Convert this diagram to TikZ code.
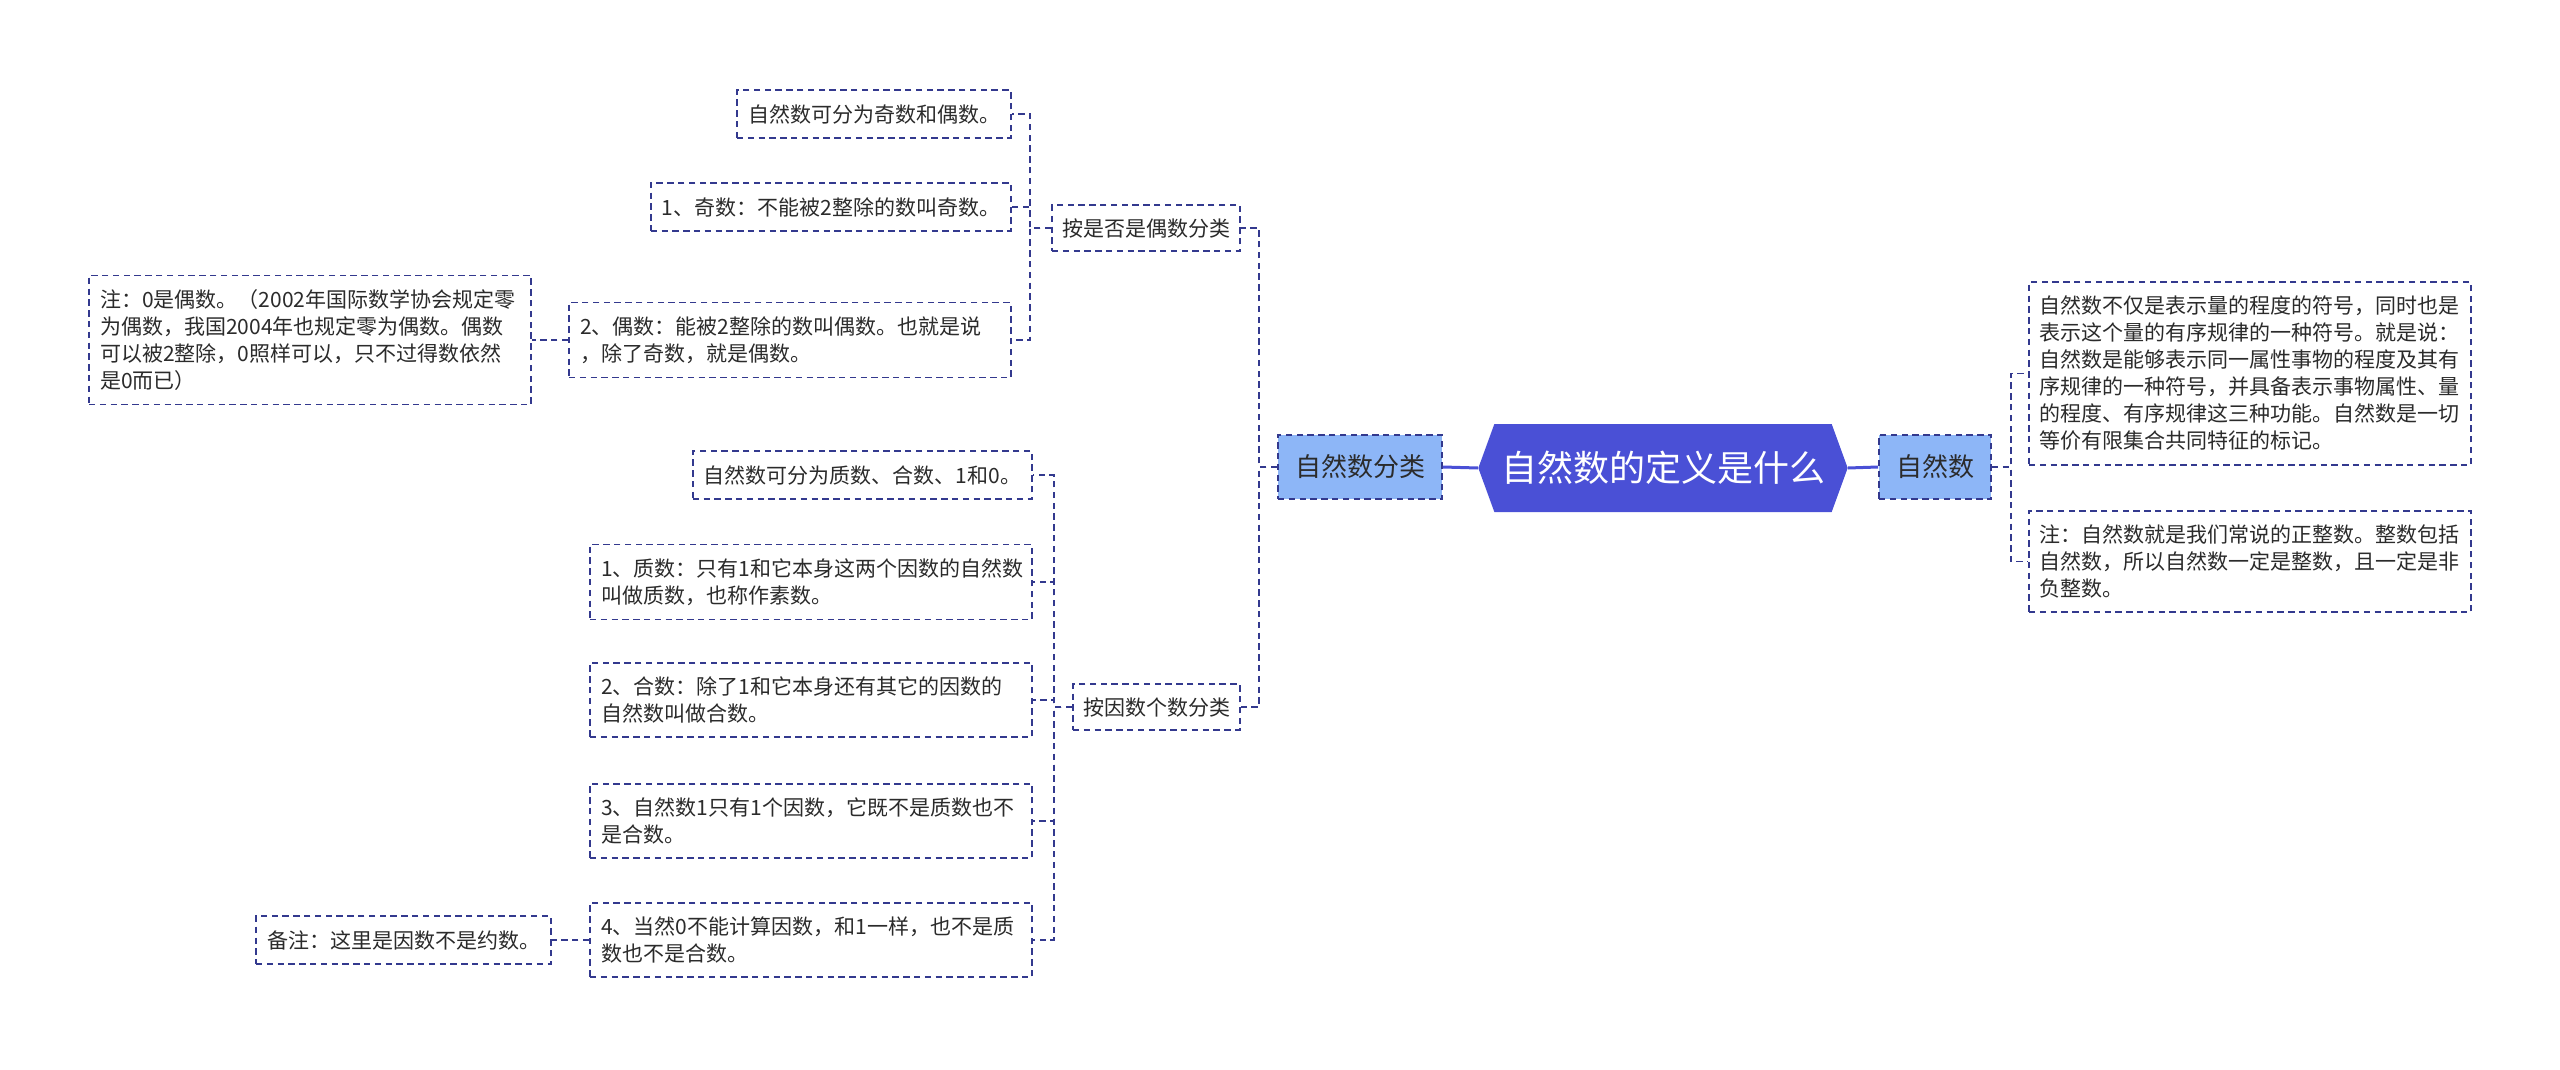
\documentclass[tikz,border=0pt]{standalone}
\usepackage{fontspec}
\setmainfont{Noto Sans CJK SC}
\usetikzlibrary{shapes.symbols}
\definecolor{rootblue}{HTML}{4A50D6}
\definecolor{lightblue}{HTML}{8DB6F7}
\definecolor{navy}{HTML}{33398E}
\definecolor{ink}{HTML}{2B2B2B}

\begin{document}
\begin{tikzpicture}[x=0.5pt, y=-0.5pt,
  nd/.style={draw=navy, line width=0.95pt, dash pattern=on 3.2pt off 2.2pt, fill=white, text=ink,
    font=\fontsize{10.5}{13.5}\selectfont, inner xsep=5.5pt, inner ysep=7pt, align=left},
  leaf/.style={nd, anchor=east},
  wide/.style={leaf, text width=210pt},
  cls/.style={nd, anchor=east, inner xsep=5pt, inner ysep=6.5pt},
  main/.style={nd, fill=lightblue, font=\fontsize{13}{15}\selectfont, inner xsep=8.5pt, inner ysep=10pt},
  root/.style={signal, signal to=east and west, signal pointer angle=140, fill=rootblue, text=white,
    font=\fontsize{18}{20}\selectfont, minimum width=182pt, minimum height=44pt},
  conn/.style={navy, line width=0.95pt, dash pattern=on 3.2pt off 2.2pt},
  trunk/.style={rootblue, line width=1.5pt}]
  \useasboundingbox (0,0) rectangle (2560,1070);
  % centre and first level
  \node[root] (root) at (1663,468) {自然数的定义是什么};
  \node[main] (cls) at (1360,467) {自然数分类};
  \node[main] (nat) at (1935,467) {自然数};
  \draw[trunk] (root.west) -- (cls.east);
  \draw[trunk] (root.east) -- (nat.west);
  % right side
  \node[wide, anchor=west] (def) at (2028,373.5) {自然数不仅是表示量的程度的符号，同时也是\\表示这个量的有序规律的一种符号。就是说：\\自然数是能够表示同一属性事物的程度及其有\\序规律的一种符号，并具备表示事物属性、量\\的程度、有序规律这三种功能。自然数是一切\\等价有限集合共同特征的标记。};
  \node[wide, anchor=west] (defnote) at (2028,561.5) {注：自然数就是我们常说的正整数。整数包括\\自然数，所以自然数一定是整数，且一定是非\\负整数。};
  \foreach \c in {def, defnote}
    \draw[conn] (nat.east) -- ++(19,0) |- (\c.west);
  % left side, second level
  \node[cls] (byeven) at (1241,228) {按是否是偶数分类};
  \node[cls] (byfactor) at (1241,707) {按因数个数分类};
  \foreach \c in {byeven, byfactor}
    \draw[conn] (cls.west) -- ++(-18,0) |- (\c.east);
  % odd and even
  \node[leaf] (e1) at (1012,114) {自然数可分为奇数和偶数。};
  \node[leaf] (e2) at (1012,207) {1、奇数：不能被2整除的数叫奇数。};
  \node[wide] (e3) at (1012,340) {2、偶数：能被2整除的数叫偶数。也就是说\\，除了奇数，就是偶数。};
  \node[wide] (e3note) at (532,340) {注：0是偶数。（2002年国际数学协会规定零\\为偶数，我国2004年也规定零为偶数。偶数\\可以被2整除，0照样可以，只不过得数依然\\是0而已）};
  \foreach \c in {e1, e2, e3}
    \draw[conn] (byeven.west) -- ++(-21,0) |- (\c.east);
  \draw[conn] (e3.west) -- (e3note.east);
  % by number of factors
  \node[leaf] (f1) at (1033,475) {自然数可分为质数、合数、1和0。};
  \node[wide] (f2) at (1033,582) {1、质数：只有1和它本身这两个因数的自然数\\叫做质数，也称作素数。};
  \node[wide] (f3) at (1033,700) {2、合数：除了1和它本身还有其它的因数的\\自然数叫做合数。};
  \node[wide] (f4) at (1033,821) {3、自然数1只有1个因数，它既不是质数也不\\是合数。};
  \node[wide] (f5) at (1033,940) {4、当然0不能计算因数，和1一样，也不是质\\数也不是合数。};
  \node[leaf] (f5note) at (552,940) {备注：这里是因数不是约数。};
  \foreach \c in {f1, f2, f3, f4, f5}
    \draw[conn] (byfactor.west) -- ++(-18,0) |- (\c.east);
  \draw[conn] (f5.west) -- (f5note.east);
\end{tikzpicture}
\end{document}
